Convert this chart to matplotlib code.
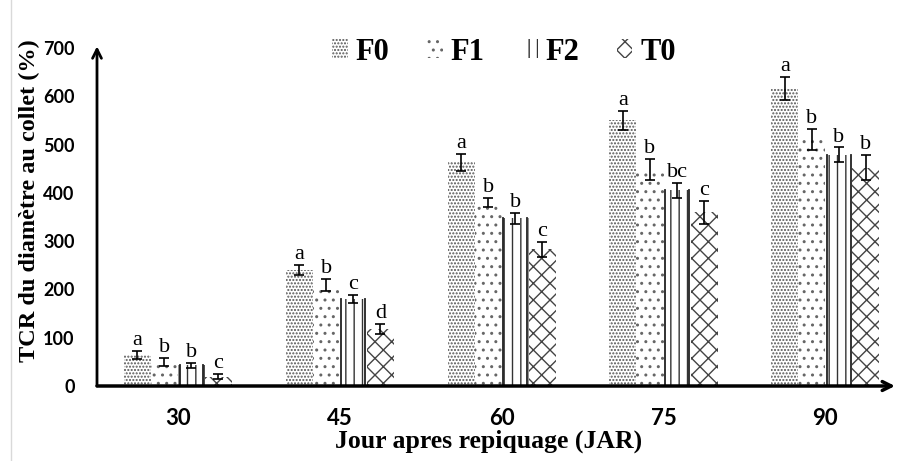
import matplotlib
matplotlib.use("Agg")
import matplotlib.pyplot as plt
import numpy as np

days = ["30", "45", "60", "75", "90"]
series = ["F0", "F1", "F2", "T0"]
f0 = [64, 240, 463, 550, 616]
f1 = [50, 209, 380, 448, 510]
f2 = [43, 180, 347, 405, 479]
t0 = [19, 118, 283, 360, 452]
f0_err = [8, 10, 18, 20, 23]
f1_err = [8, 12, 10, 22, 22]
f2_err = [5, 8, 12, 15, 15]
t0_err = [5, 10, 15, 24, 26]
f0_let = ["a", "a", "a", "a", "a"]
f1_let = ["b", "b", "b", "b", "b"]
f2_let = ["b", "c", "b", "bc", "b"]
t0_let = ["c", "d", "c", "c", "b"]

SERIF = "Liberation Serif"
SANS = "Lato"

fig = plt.figure(figsize=(8.97, 4.61), dpi=100)
ax = fig.add_axes([97 / 897, 75 / 461, 798 / 897, 338 / 461])

# (values, errors, letters, hatch, hatch colour)
styles = [
    (f0, f0_err, f0_let, ".....", "#555555"),
    (f1, f1_err, f1_let, "..", "#666666"),
    (f2, f2_err, f2_let, "||", "#333333"),
    (t0, t0_err, t0_let, "xx", "#444444"),
]

x = np.arange(len(days))
w = 0.167
handles = []
for i, (vals, errs, lets, hatch, hc) in enumerate(styles):
    pos = x + (i - 1.5) * w
    bars = ax.bar(pos, vals, w, facecolor="white", edgecolor=hc, hatch=hatch,
                  linewidth=0, label=series[i], zorder=2)
    if series[i] == "F2":
        for b in bars:
            bx, bw, bh = b.get_x(), b.get_width(), b.get_height()
            ax.plot([bx + 0.01, bx + 0.01], [0, bh], color="#222", lw=1.3, zorder=3)
            ax.plot([bx + bw - 0.01, bx + bw - 0.01], [0, bh], color="#222", lw=1.3, zorder=3)
    handles.append(bars)
    ax.errorbar(pos, vals, yerr=errs, fmt="none", ecolor="black", elinewidth=1.2,
                capsize=3.5, capthick=1.2, zorder=4)
    for px, v, e, l in zip(pos, vals, errs, lets):
        ax.text(px, v + e + 2, l, ha="center", va="bottom", fontsize=16,
                family=SERIF, zorder=5)

ax.set_xlim(-0.5, 4.43)
ax.set_ylim(0, 700)
ax.set_yticks(range(0, 701, 100))
ax.set_xticks(x)
ax.set_xticklabels(days)
ax.tick_params(axis="both", length=0)
ax.tick_params(axis="y", pad=16, labelsize=13)
ax.tick_params(axis="x", pad=16, labelsize=16)
for lab in ax.get_xticklabels() + ax.get_yticklabels():
    lab.set_family(SANS)
    lab.set_fontweight("bold")
for s in ax.spines.values():
    s.set_visible(False)

# axis arrows
ax.annotate("", xy=(0, 1.005), xytext=(0, 0), xycoords="axes fraction",
            arrowprops=dict(arrowstyle="->", lw=2, color="black",
                            shrinkA=0, shrinkB=0, mutation_scale=16))
ax.annotate("", xy=(1.0, 0), xytext=(0, 0), xycoords="axes fraction",
            arrowprops=dict(arrowstyle="->", lw=2.5, color="black",
                            shrinkA=0, shrinkB=0, mutation_scale=16))

fig.text(29 / 897, 1 - 201 / 461, "TCR du diamètre au collet (%)", rotation=90,
         ha="center", va="center", fontsize=17.5, fontweight="bold", family=SERIF)
fig.text(489 / 897, 1 - 441 / 461, "Jour apres repiquage (JAR)", ha="center",
         va="center", fontsize=18.5, fontweight="bold", family=SERIF)

leg = fig.legend(handles=handles, labels=series, ncol=4, frameon=False,
                 loc="center", bbox_to_anchor=(504 / 897, 1 - 52 / 461),
                 handlelength=0.5, handleheight=0.6, handletextpad=0.25,
                 columnspacing=1.25, borderpad=0.1,
                 prop=dict(family=SERIF, weight="bold", size=22))

# faint frame of the chart area
fig.add_artist(plt.Line2D([11 / 897, 11 / 897], [0, 1], color="#d9d9d9", lw=1))

fig.savefig("out.png", dpi=100)
